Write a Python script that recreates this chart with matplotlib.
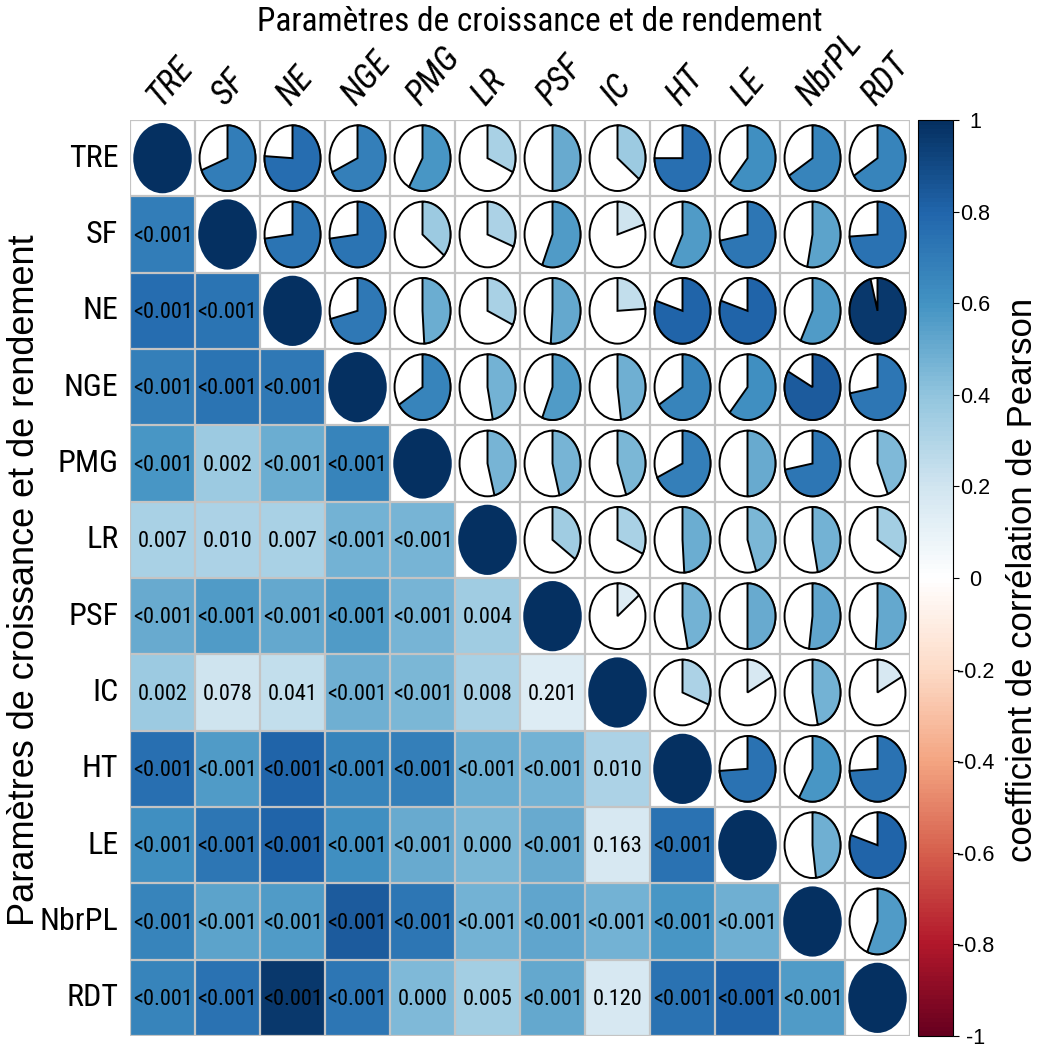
import numpy as np
import matplotlib
matplotlib.use("Agg")
import matplotlib.pyplot as plt
from matplotlib.colors import LinearSegmentedColormap, Normalize
from matplotlib.patches import Polygon, Ellipse
import matplotlib.cm as cm

# variables
labels = ["TRE", "SF", "NE", "NGE", "PMG", "LR", "PSF", "IC", "HT", "LE", "NbrPL", "RDT"]

# Pearson r, upper triangle, row by row (columns after the diagonal)
r_TRE = [0.69, 0.76, 0.68, 0.58, 0.32, 0.50, 0.36, 0.75, 0.61, 0.66, 0.66]
r_SF = [0.73, 0.73, 0.36, 0.31, 0.56, 0.20, 0.57, 0.72, 0.53, 0.74]
r_NE = [0.71, 0.49, 0.32, 0.51, 0.24, 0.80, 0.80, 0.57, 0.96]
r_NGE = [0.66, 0.47, 0.56, 0.48, 0.66, 0.61, 0.83, 0.72]
r_PMG = [0.46, 0.46, 0.45, 0.68, 0.50, 0.72, 0.44]
r_LR = [0.35, 0.32, 0.49, 0.45, 0.47, 0.34]
r_PSF = [0.14, 0.47, 0.50, 0.52, 0.51]
r_IC = [0.31, 0.17, 0.47, 0.17]
r_HT = [0.74, 0.58, 0.74]
r_LE = [0.48, 0.80]
r_NbrPL = [0.56]

# p-values, lower triangle, row by row (columns before the diagonal)
p_SF = ["<0.001"]
p_NE = ["<0.001", "<0.001"]
p_NGE = ["<0.001", "<0.001", "<0.001"]
p_PMG = ["<0.001", "0.002", "<0.001", "<0.001"]
p_LR = ["0.007", "0.010", "0.007", "<0.001", "<0.001"]
p_PSF = ["<0.001", "<0.001", "<0.001", "<0.001", "<0.001", "0.004"]
p_IC = ["0.002", "0.078", "0.041", "<0.001", "<0.001", "0.008", "0.201"]
p_HT = ["<0.001", "<0.001", "<0.001", "<0.001", "<0.001", "<0.001", "<0.001", "0.010"]
p_LE = ["<0.001", "<0.001", "<0.001", "<0.001", "<0.001", "0.000", "<0.001", "0.163", "<0.001"]
p_NbrPL = ["<0.001"] * 10
p_RDT = ["<0.001", "<0.001", "<0.001", "<0.001", "0.000", "0.005", "<0.001", "0.120",
         "<0.001", "<0.001", "<0.001"]

cbar_ticks = [1, 0.8, 0.6, 0.4, 0.2, 0, -0.2, -0.4, -0.6, -0.8, -1]
cbar_ticklabels = ["1", "0.8", "0.6", "0.4", "0.2", "0", "-0.2", "-0.4", "-0.6", "-0.8", "-1"]

title = "Paramètres de croissance et de rendement"
cbar_title = "coefficient de corrélation de Pearson"

# build the full matrices
n = len(labels)
r_upper = [r_TRE, r_SF, r_NE, r_NGE, r_PMG, r_LR, r_PSF, r_IC, r_HT, r_LE, r_NbrPL]
p_lower = [p_SF, p_NE, p_NGE, p_PMG, p_LR, p_PSF, p_IC, p_HT, p_LE, p_NbrPL, p_RDT]
R = np.eye(n)
for i, row in enumerate(r_upper):
    for k, v in enumerate(row):
        R[i, i + 1 + k] = v
        R[i + 1 + k, i] = v
P = [[""] * n for _ in range(n)]
for i, row in enumerate(p_lower):
    for j, v in enumerate(row):
        P[i + 1][j] = v

rdbu = ["#67001F", "#B2182B", "#D6604D", "#F4A582", "#FDDBC7", "#FFFFFF",
        "#D1E5F0", "#92C5DE", "#4393C3", "#2166AC", "#053061"]
cmap = LinearSegmentedColormap.from_list("corr", rdbu, N=200)
norm = Normalize(-1, 1)

narrow = ["Liberation Sans Narrow", "Roboto Condensed", "Liberation Sans"]
plt.rcParams["font.family"] = ["Liberation Sans", "DejaVu Sans"]

W, H = 1040, 1048
fig = plt.figure(figsize=(W / 100, H / 100), dpi=100)
ax = fig.add_axes([130 / W, 1 - 1036 / H, 780 / W, 916 / H])
ax.set_xlim(0, n)
ax.set_ylim(n, 0)
ax.axis("off")

grid_col = "#C4C4C4"

# lower triangle: coloured squares with p-values
lower = np.ma.masked_where(np.triu(np.ones((n, n), dtype=bool)), R)
ax.pcolormesh(np.arange(n + 1), np.arange(n + 1), lower, cmap=cmap, norm=norm,
              edgecolors=grid_col, linewidth=1.2)
for i in range(n):
    for j in range(i):
        ax.text(j + 0.5, i + 0.52, P[i][j], ha="center", va="center",
                fontsize=16, family=narrow, color="black")

# grid on the whole matrix
for k in range(n + 1):
    ax.plot([k, k], [0, n], color=grid_col, lw=1.6, zorder=1)
    ax.plot([0, n], [k, k], color=grid_col, lw=1.6, zorder=1)

# upper triangle: pies, diagonal: full circles
rx, ry = 0.43, 0.43
for i in range(n):
    cx, cy = i + 0.5, i + 0.5
    ax.add_patch(Ellipse((cx, cy), 2 * 0.45, 2 * 0.46, facecolor=cmap(norm(R[i, i])),
                         edgecolor="none", zorder=3))
    for j in range(i + 1, n):
        cx, cy = j + 0.5, i + 0.5
        r = R[i, j]
        ax.add_patch(Ellipse((cx, cy), 2 * rx, 2 * ry, facecolor="white",
                             edgecolor="black", lw=1.4, zorder=3))
        t = np.linspace(0, 2 * np.pi * r, 100)
        pts = np.column_stack([np.r_[cx, cx + rx * np.sin(t)],
                               np.r_[cy, cy - ry * np.cos(t)]])
        ax.add_patch(Polygon(pts, closed=True, facecolor=cmap(norm(r)),
                             edgecolor="black", lw=1.4, zorder=4))

# labels
for k, lab in enumerate(labels):
    ax.text(-0.18, k + 0.5, lab, ha="right", va="center", fontsize=23, family=narrow)
    ax.text(k + 0.47, -0.17, lab, ha="left", va="baseline", fontsize=25, family=narrow,
            style="italic", rotation=50, rotation_mode="anchor")

fig.text(540 / W, 1 - 22 / H, title, ha="center", va="center", fontsize=24, family=narrow)
fig.text(25 / W, 1 - 580 / H, title, ha="center", va="center", fontsize=26, rotation=90)

# colour bar
cax = fig.add_axes([918 / W, 1 - 1036 / H, 35 / W, 916 / H])
sm = cm.ScalarMappable(norm=norm, cmap=cmap)
cb = fig.colorbar(sm, cax=cax, ticks=cbar_ticks)
cb.outline.set_linewidth(0.8)
cax.set_yticklabels(cbar_ticklabels)
cax.tick_params(axis="y", length=4.5, width=0.8, pad=11.5, labelsize=15.5)
for tl in cax.get_yticklabels():
    tl.set_horizontalalignment("center")
fig.text(1022 / W, 1 - 580 / H, cbar_title, ha="center", va="center", fontsize=25,
         rotation=90)

fig.savefig("out.png", dpi=100)
